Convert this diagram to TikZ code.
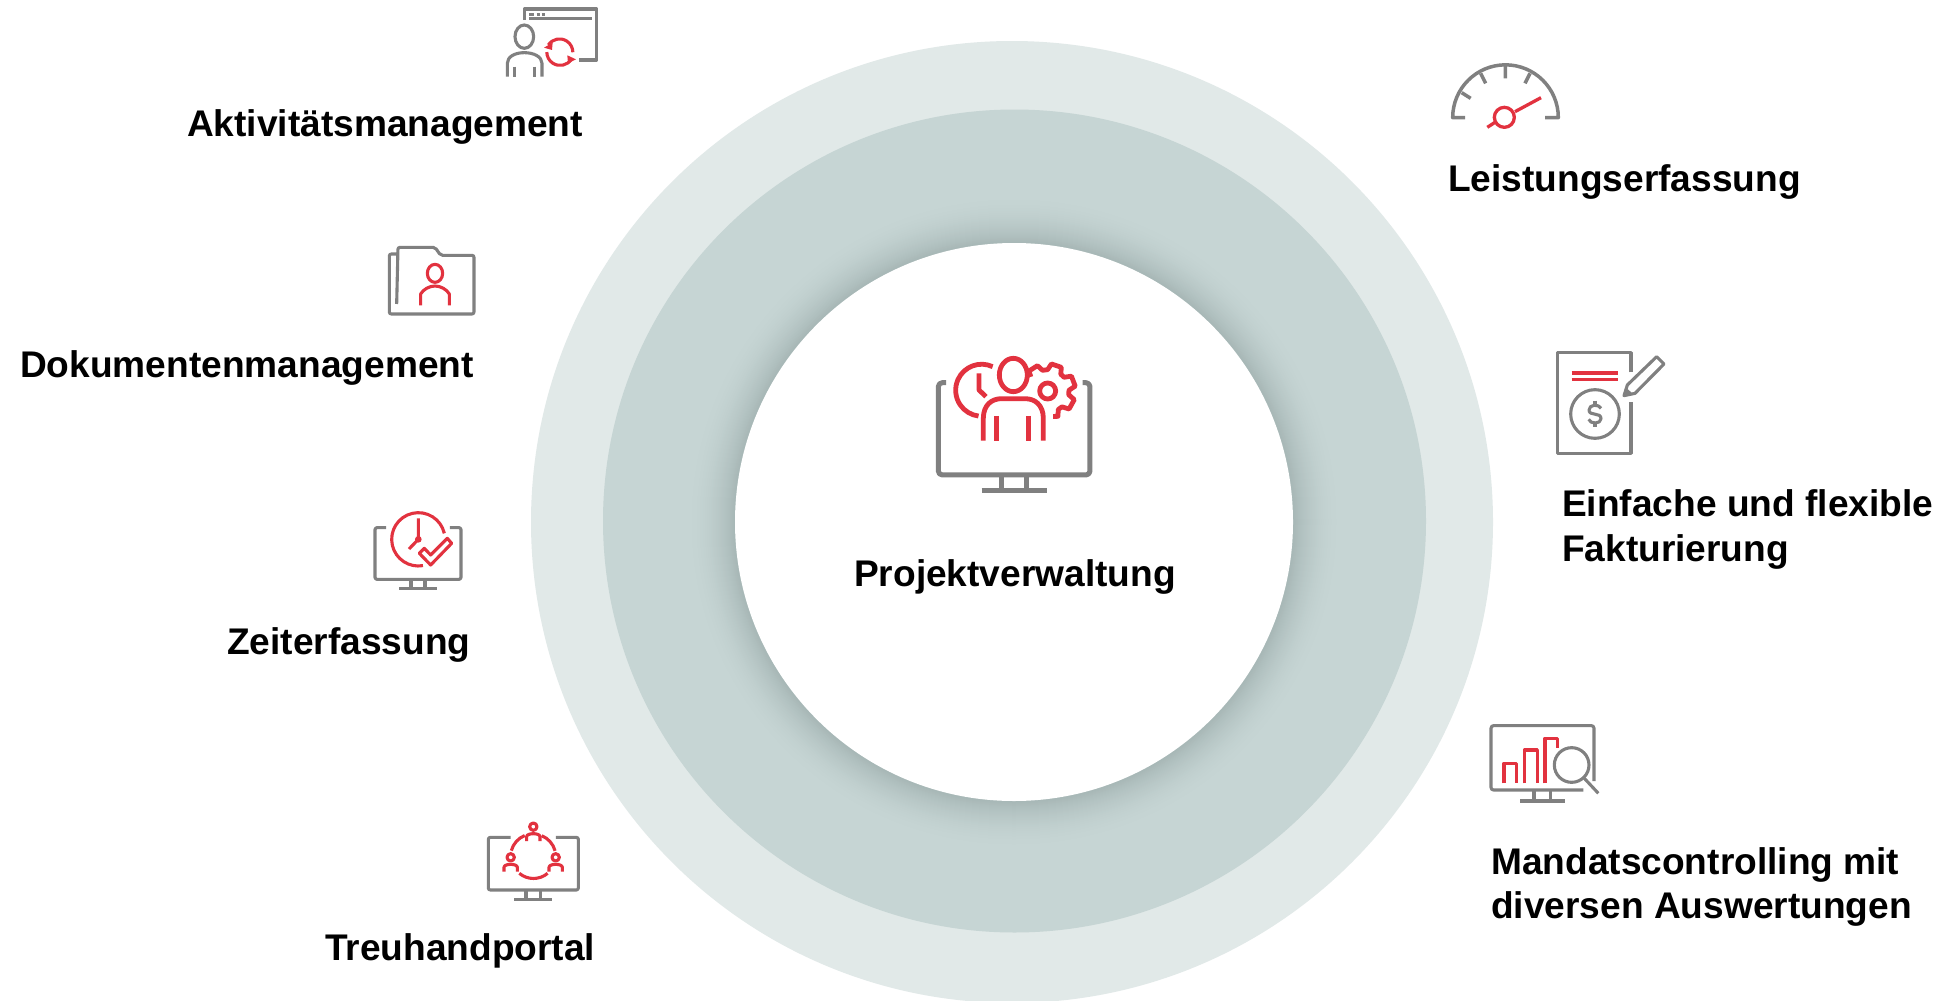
\documentclass[tikz,border=0pt]{standalone}
\usepackage{fontspec}
\setmainfont{Liberation Sans}
\definecolor{ringa}{HTML}{E1E9E8}
\definecolor{ringb}{HTML}{C6D5D4}
\definecolor{shad}{HTML}{A8B8B7}
\definecolor{icgrey}{HTML}{808080}
\definecolor{icred}{HTML}{E2323F}
\tikzset{
  lbl/.style={font=\fontsize{37.1}{37.1}\bfseries\selectfont,anchor=base west,inner sep=0pt,text=black},
  gr/.style={draw=icgrey,line width=#1,line join=round,fill=none},
  gr/.default=3.1,
  rd/.style={draw=icred,line width=#1,line join=round,fill=none},
  rd/.default=3.1,
}
\begin{document}
\begin{tikzpicture}[x=1pt,y=-1pt]
\useasboundingbox (0,0) rectangle (1946,1001);
\fill[white] (0,0) rectangle (1946,1001);
\begin{scope}
\clip (0,0) rectangle (1946,1001);
\fill[ringa] (1012,522) circle[radius=481];
\fill[ringb] (1014.5,521) circle[radius=411.5];
\foreach \i in {0,...,49}{
  \pgfmathsetmacro{\r}{329-\i}
  \pgfmathsetmacro{\m}{100*(\i/49)^2}
  \fill[shad!\m!ringb] (1014,522) circle[radius=\r];
}
\fill[white] (1014,522) circle[radius=279];
\end{scope}
% labels
\node[lbl] (t1) at (187,136) {Aktivitätsmanagement};
\node[lbl] (t2) at (20,377) {Dokumentenmanagement};
\node[lbl] (t3) at (227,654) {Zeiterfassung};
\node[lbl] (t4) at (325,960) {Treuhandportal};
\node[lbl] (t5) at (1448,191) {Leistungserfassung};
\node[lbl] (t6) at (1562,516) {Einfache und flexible};
\node[lbl] (t7) at (1562,561) {Fakturierung};
\node[lbl] (t8) at (1491,874) {Mandatscontrolling mit};
\node[lbl] (t9) at (1491,918) {diversen Auswertungen};
\node[lbl] (t0) at (854,586) {Projektverwaltung};
% centre icon
\begin{scope}[shift={(880,320)},x=0.3333pt,y=-0.3333pt]
\draw[gr=5,rounded corners=4pt] (198,188) -- (175,188) -- (175,465) -- (630,465) -- (630,188) -- (608,188);
\draw[gr=5] (366,465) -- (366,512) (440,465) -- (440,512) (305,512) -- (500,512);
\draw[rd=4.8] (400,165) ellipse[x radius=42,y radius=50];
\draw[rd=4.8] (310,362) -- (310,295) .. controls (310,255) and (335,236) .. (365,236) -- (435,236) .. controls (465,236) and (490,255) .. (490,295) -- (490,362);
\draw[rd=4.8] (350,288) -- (350,362) (445,288) -- (445,362);
\draw[rd=4.8] (338,140) arc[start angle=-65,end angle=-263,radius=78];
\draw[rd=4.8] (297,160) -- (297,210) -- (318,230);
\draw[rd=4.8] (503,213) circle[radius=24];
\begin{scope}[shift={(503,213)}]
\draw[rd=4.8] (-140:66) -- (-133:82) -- (-112:82) -- (-104:64) -- (-90:64) -- (-82:82) -- (-60:82) -- (-52:64) -- (-40:64) -- (-32:84) -- (-10:84) -- (-2:64) -- (10:64) -- (18:84) -- (40:84) -- (48:64) -- (60:64) -- (68:82) -- (78:78);
\end{scope}
\end{scope}
% activity icon
\begin{scope}[shift={(480,0)},x=0.3333pt,y=-0.3333pt]
\draw[gr] (133,60) -- (133,27) -- (350,27) -- (350,180) -- (298,180);
\draw[gr] (148,55) -- (335,55);
\draw[gr] (148,43) -- (162,43) (170,43) -- (180,43) (185,43) -- (195,43);
\draw[gr] (133,110) ellipse[x radius=28,y radius=35];
\draw[gr] (82,230) -- (82,190) .. controls (82,170) and (105,158) .. (133,158) .. controls (161,158) and (186,170) .. (186,190) -- (186,230);
\draw[gr] (103,200) -- (103,230) (163,200) -- (163,230);
\draw[rd] (205,135) arc[start angle=-147,end angle=0,radius=40];
\draw[rd] (274,178) arc[start angle=33,end angle=180,radius=40];
\fill[icred] (192,143) -- (218,128) -- (216,150) -- cycle;
\fill[icred] (288,178) -- (262,166) -- (264,190) -- cycle;
\end{scope}
% folder icon
\begin{scope}[shift={(370,230)},x=0.3333pt,y=-0.3333pt]
\draw[gr,rounded corners=2pt] (80,222) -- (84,52) -- (195,52) -- (212,76) -- (312,76) -- (312,252) -- (58,252) -- (58,72) -- (82,72);
\draw[rd] (195,130) ellipse[x radius=23,y radius=27];
\draw[rd] (152,226) -- (152,192) .. controls (160,178) and (178,168) .. (195,168) .. controls (212,168) and (230,178) .. (238,192) -- (238,226);
\end{scope}
% time icon
\begin{scope}[shift={(360,500)},x=0.3333pt,y=-0.3333pt]
\draw[gr,rounded corners=2pt] (78,83) -- (45,83) -- (45,238) -- (303,238) -- (303,83) -- (270,83);
\draw[gr] (153,238) -- (153,265) (195,238) -- (195,265) (118,265) -- (230,265);
\draw[rd] (253,100) arc[start angle=-13,end angle=-280,radius=80];
\draw[rd] (175,55) -- (175,118) -- (147,147);
\fill[icred] (175,118) circle[radius=10];
\draw[rd] (178,160) -- (193,145) -- (212,165) -- (262,115) -- (275,130) -- (212,195) -- cycle;
\end{scope}
% portal icon
\begin{scope}[shift={(475,810)},x=0.3333pt,y=-0.3333pt]
\draw[gr,rounded corners=2pt] (107,82) -- (40,82) -- (40,240) -- (310,240) -- (310,82) -- (243,82);
\draw[gr] (153,240) -- (153,268) (197,240) -- (197,268) (117,268) -- (232,268);
\draw[rd] (109,122) arc[start angle=-165,end angle=-112,radius=68];
\draw[rd] (200,77) arc[start angle=-68,end angle=-15,radius=68];
\draw[rd] (133,190) arc[start angle=130,end angle=50,radius=66];
\foreach \px/\py in {175/50,107/142,242/142}{
  \begin{scope}[shift={(\px,\py)}]
  \draw[rd] (0,0) circle[radius=11];
  \draw[rd] (-20,43) -- (-20,30) .. controls (-20,24) and (-10,21) .. (0,21) .. controls (10,21) and (20,24) .. (20,30) -- (20,43);
  \end{scope}
}
\end{scope}
% gauge icon
\begin{scope}[shift={(1440,50)},x=0.3333pt,y=-0.3333pt]
\draw[gr=3.5] (75,203) -- (38,203) arc[start angle=-180,end angle=0,radius=158.5] -- (315,203);
\draw[gr=3.5] (196,48) -- (196,85) (122,70) -- (137,100) (65,128) -- (92,145) (270,70) -- (255,100);
\draw[rd=3.3] (193,202) circle[radius=30];
\draw[rd=3.3] (225,185) -- (303,143) (165,217) -- (142,232);
\end{scope}
% invoice icon
\begin{scope}[shift={(1540,340)},x=0.3333pt,y=-0.3333pt]
\draw[gr=3.5] (273,97) -- (273,38) -- (53,38) -- (53,340) -- (273,340) -- (273,185);
\draw[rd=3.6] (95,99) -- (233,99) (95,119) -- (233,119);
\draw[gr] (165,222) circle[radius=73];
\draw[gr] (183,205) .. controls (178,192) and (147,192) .. (147,210) .. controls (147,230) and (183,215) .. (183,236) .. controls (183,253) and (150,253) .. (146,238);
\draw[gr] (165,182) -- (165,197) (165,247) -- (165,262);
\draw[gr] (262,135) -- (350,50) -- (372,72) -- (285,160) -- (252,167) -- cycle;
\fill[icgrey] (252,167) -- (260,145) -- (275,158) -- cycle;
\end{scope}
% controlling icon
\begin{scope}[shift={(1480,715)},x=0.3333pt,y=-0.3333pt]
\draw[gr,rounded corners=2.5pt] (342,198) -- (342,32) -- (33,32) -- (33,225) -- (310,225);
\draw[gr] (162,225) -- (162,258) (212,225) -- (212,258) (120,258) -- (255,258);
\draw[rd=3.4] (72,205) -- (72,145) -- (110,145) -- (110,205);
\draw[rd=3.4] (133,205) -- (133,105) -- (172,105) -- (172,205);
\draw[rd=3.4] (195,205) -- (195,70) -- (233,70) -- (233,100);
\draw[gr] (275,150) circle[radius=52];
\draw[gr] (313,190) -- (355,235);
\end{scope}
\end{tikzpicture}
\end{document}
